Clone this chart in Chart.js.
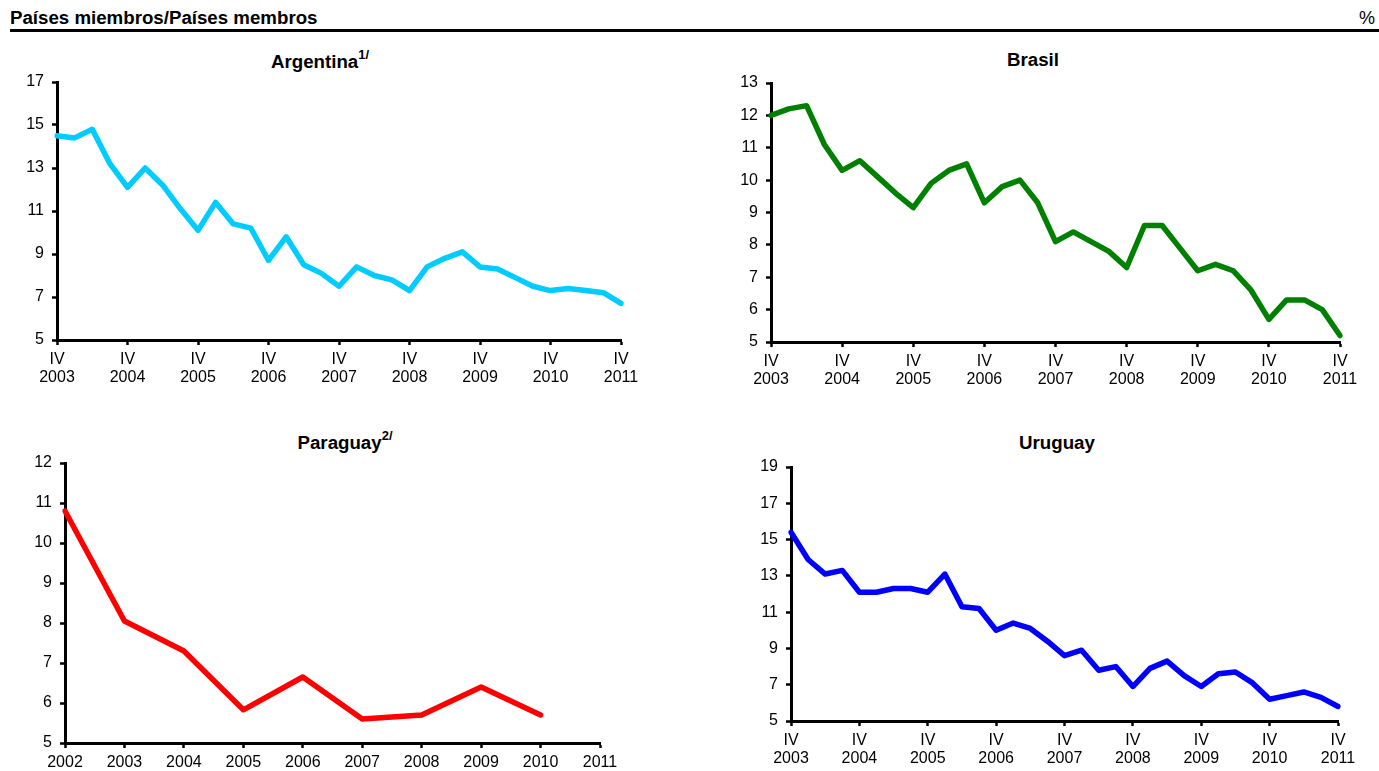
<!DOCTYPE html>
<html>
<head>
<meta charset="utf-8">
<script src="https://cdn.jsdelivr.net/npm/chart.js@4.4.0/dist/chart.umd.min.js"></script>
<style>
  html, body { margin: 0; padding: 0; background: #fff; }
  body { width: 1379px; height: 771px; position: relative; overflow: hidden;
         font-family: 'Liberation Sans', Arial, sans-serif; color: #000; }
  .abs { position: absolute; }
  .hdr { font-weight: bold; font-size: 18.7px; line-height: 22px; white-space: nowrap; }
  .ttl { font-weight: bold; font-size: 18.7px; line-height: 22px; white-space: nowrap; transform: translate(-50%, -50%); }
  .ttl sup { font-size: 13px; position: relative; top: -2px; vertical-align: super; line-height: 0; }
  canvas { position: absolute; }
</style>
</head>
<body>
<div class="abs hdr" style="left:10px; top:7px;">Países miembros/Países membros</div>
<div class="abs" style="left:1359px; top:7px; font-size:18px; line-height:22px;">%</div>
<div class="abs" style="left:10px; right:0; top:29px; height:3px; background:#000;"></div>

<div class="abs ttl" style="left:320px; top:62px;">Argentina<sup>1/</sup></div>
<div class="abs ttl" style="left:1033px; top:60px;">Brasil</div>
<div class="abs ttl" style="left:345px; top:443px;">Paraguay<sup>2/</sup></div>
<div class="abs ttl" style="left:1057px; top:443px;">Uruguay</div>

<canvas id="cArg"></canvas>
<canvas id="cBra"></canvas>
<canvas id="cPar"></canvas>
<canvas id="cUru"></canvas>

<script>
// ---- Data ----
// Quarterly series, from 2003 IV to 2011 IV
const quarterYears = ['2003','2004','2005','2006','2007','2008','2009','2010','2011'];
const quarterNames = ['I','II','III','IV'];

const argentina = [14.5,14.4,14.8,13.2,12.1,13.0,12.2,11.1,10.1,11.4,10.4,10.2,8.7,9.8,8.5,8.1,
                   7.5,8.4,8.0,7.8,7.3,8.4,8.8,9.1,8.4,8.3,7.9,7.5,7.3,7.4,7.3,7.2,6.7];
const brasil    = [12.0,12.2,12.3,11.1,10.3,10.6,10.1,9.6,9.15,9.9,10.3,10.5,9.3,9.8,10.0,9.3,
                   8.1,8.4,8.1,7.8,7.3,8.6,8.6,7.9,7.2,7.4,7.2,6.6,5.7,6.3,6.3,6.0,5.2];
const uruguay   = [15.4,13.9,13.1,13.3,12.1,12.1,12.3,12.3,12.1,13.1,11.3,11.2,10.0,10.4,10.1,9.4,
                   8.6,8.9,7.8,8.0,6.9,7.9,8.3,7.5,6.9,7.6,7.7,7.1,6.2,6.4,6.6,6.3,5.8];

// Annual series (Paraguay)
const paraguayYears = ['2002','2003','2004','2005','2006','2007','2008','2009','2010','2011'];
const paraguay  = [10.8,8.05,7.3,5.83,6.65,5.6,5.7,6.4,5.7];

// Y-axis tick ranges
const argTicks = {min: 5, max: 17, step: 2};
const braTicks = {min: 5, max: 13, step: 1};
const parTicks = {min: 5, max: 12, step: 1};
const uruTicks = {min: 5, max: 19, step: 2};

// ---- Build quarterly labels: only the IV quarters get a (two-line) label ----
const quarterLabels = [];
for (let y = 0; y < quarterYears.length; y++) {
  for (let q = 0; q < 4; q++) {
    if (y === 0 && q < 3) continue;        // series starts at 2003 IV
    quarterLabels.push(q === 3 ? [quarterNames[q], quarterYears[y]] : '');
  }
}

Chart.defaults.font.family = "'Liberation Sans', Arial, sans-serif";
Chart.defaults.font.size = 16;
Chart.defaults.color = '#000';

function makeChart(id, rect, area, labels, data, color, ticks, quarterly) {
  const cv = document.getElementById(id);
  cv.width = rect.w; cv.height = rect.h;
  cv.style.left = rect.x + 'px'; cv.style.top = rect.y + 'px';
  cv.style.width = rect.w + 'px'; cv.style.height = rect.h + 'px';
  const yWidth = area.l - rect.x;
  const xHeight = rect.y + rect.h - area.b;
  return new Chart(cv, {
    type: 'line',
    data: {
      labels: labels,
      datasets: [{
        data: data,
        borderColor: color,
        borderWidth: 5.5,
        borderJoinStyle: 'round',
        borderCapStyle: 'round',
        pointRadius: 0,
        fill: false,
        tension: 0
      }]
    },
    options: {
      responsive: false,
      animation: false,
      devicePixelRatio: 1,
      layout: { padding: { left: 0, top: area.t - rect.y, right: rect.x + rect.w - area.r, bottom: 0 } },
      plugins: { legend: { display: false }, tooltip: { enabled: false }, title: { display: false } },
      scales: {
        x: {
          type: 'category',
          offset: false,
          border: { display: true, color: '#000', width: 3 },
          grid: {
            display: true,
            drawOnChartArea: false,
            drawTicks: true,
            tickLength: 5,
            tickWidth: 2.5,
            tickColor: (ctx) => (!quarterly || ctx.index % 4 === 0) ? '#000' : 'rgba(0,0,0,0)'
          },
          ticks: {
            autoSkip: false, maxRotation: 0, minRotation: 0, padding: 5,
            color: '#000', font: { size: 16, lineHeight: 1.15 }
          },
          afterFit: (s) => { s.height = xHeight; s.paddingLeft = 0; s.paddingRight = 0; }
        },
        y: {
          min: ticks.min, max: ticks.max,
          border: { display: true, color: '#000', width: 3 },
          grid: { display: true, drawOnChartArea: false, drawTicks: true, tickLength: 5, tickWidth: 2.5, tickColor: '#000' },
          ticks: { stepSize: ticks.step, padding: 8, color: '#000', font: { size: 16 } },
          afterFit: (s) => { s.width = yWidth; s.paddingTop = 0; s.paddingBottom = 0; }
        }
      }
    }
  });
}

makeChart('cArg', {x: 0,   y: 70,  w: 680, h: 330}, {l: 57,  t: 82,  r: 621,  b: 340}, quarterLabels, argentina, '#00CCFF', argTicks, true);
makeChart('cBra', {x: 690, y: 70,  w: 689, h: 330}, {l: 771, t: 83,  r: 1340, b: 342}, quarterLabels, brasil,    '#008000', braTicks, true);
makeChart('cPar', {x: 0,   y: 450, w: 680, h: 321}, {l: 65,  t: 463, r: 600,  b: 743}, paraguayYears, paraguay, '#FF0000', parTicks, false);
makeChart('cUru', {x: 700, y: 450, w: 679, h: 321}, {l: 791, t: 467, r: 1338, b: 721}, quarterLabels, uruguay,   '#0000FF', uruTicks, true);
</script>
</body>
</html>
